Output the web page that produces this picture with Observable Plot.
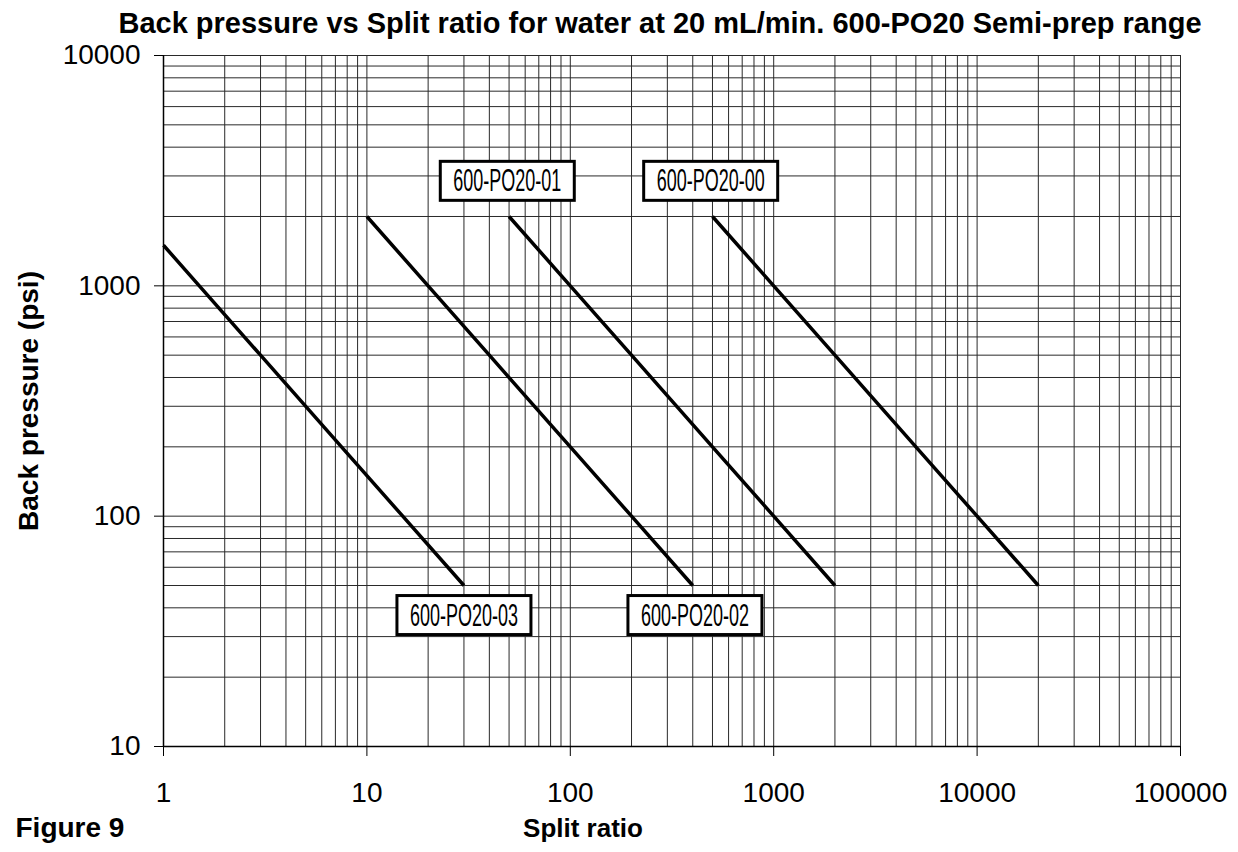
<!DOCTYPE html>
<html>
<head>
<meta charset="utf-8">
<script src="https://cdn.jsdelivr.net/npm/d3@7"></script>
<script src="https://cdn.jsdelivr.net/npm/@observablehq/plot@0.6"></script>
<style>
  html, body { margin: 0; padding: 0; background: #fff; }
  svg { display: block; }
</style>
</head>
<body>
<script>
// ---- data ----
const seriesNames = ["600-PO20-03", "600-PO20-02", "600-PO20-01", "600-PO20-00"];
const split03 = [1, 1.5, 3, 7.5, 15, 30];
const bp03    = [1500, 1000, 500, 200, 100, 50];
const split02 = [10, 20, 40, 100, 200, 400];
const bp02    = [2000, 1000, 500, 200, 100, 50];
const split01 = [50, 100, 200, 500, 1000, 2000];
const bp01    = [2000, 1000, 500, 200, 100, 50];
const split00 = [500, 1000, 2000, 5000, 10000, 20000];
const bp00    = [2000, 1000, 500, 200, 100, 50];

// label anchor positions (data coordinates)
const labelSplit = [30, 410, 49, 490];
const labelBp    = [37, 37, 2840, 2840];

// tick labels
const splitTicks = [1, 10, 100, 1000, 10000, 100000];
const pressureTicks = [10, 100, 1000, 10000];

// ---- build tables ----
const splits = [split03, split02, split01, split00];
const bps = [bp03, bp02, bp01, bp00];
const lineData = [];
seriesNames.forEach((name, i) => {
  splits[i].forEach((s, j) => lineData.push({series: name, split: s, bp: bps[i][j]}));
});
const labelData = seriesNames.map((name, i) => ({series: name, split: labelSplit[i], bp: labelBp[i]}));

const xGrid = [];
for (let e = 0; e < 5; e++) for (let m = 1; m <= 9; m++) xGrid.push(m * 10 ** e);
xGrid.push(100000);
const yGrid = [];
for (let e = 1; e < 4; e++) for (let m = 1; m <= 9; m++) yGrid.push(m * 10 ** e);
yGrid.push(10000);

const FONT = "'Liberation Sans', Arial, Helvetica, sans-serif";
const NARROW = "'Liberation Sans Narrow', 'Arial Narrow', 'Liberation Sans', sans-serif";
const gridColor = "#2a2a2a";

const chart = Plot.plot({
  width: 1238,
  height: 852,
  marginTop: 55,
  marginBottom: 106,
  marginLeft: 163,
  marginRight: 58,
  style: {fontFamily: FONT, background: "#fff", color: "#000", overflow: "visible"},
  x: {type: "log", domain: [1, 100000]},
  y: {type: "log", domain: [10, 10000]},
  marks: [
    Plot.ruleX(xGrid, {stroke: gridColor, strokeWidth: 1}),
    Plot.ruleY(yGrid, {stroke: gridColor, strokeWidth: 1}),
    Plot.axisX({ticks: splitTicks, tickFormat: d => String(d), tickSize: 10, tickPadding: 26,
                fontSize: 28, label: null, stroke: "#000"}),
    Plot.axisY({ticks: pressureTicks, tickFormat: d => String(d), tickSize: 9, tickPadding: 14,
                fontSize: 28, label: null, stroke: "#000"}),
    Plot.ruleX([1], {stroke: "#000", strokeWidth: 1.5}),
    Plot.ruleY([10], {stroke: "#000", strokeWidth: 1.5}),
    Plot.line(lineData, {x: "split", y: "bp", z: "series", stroke: "#000", strokeWidth: 3.5, strokeLinecap: "butt"}),
    Plot.text(labelData, {x: "split", y: "bp", text: "series", fontSize: 31,
                          fontFamily: NARROW, fill: "#000"}),
    Plot.text(["Back pressure vs Split ratio for water at 20 mL/min. 600-PO20 Semi-prep range"],
              {frameAnchor: "top", dx: -12, dy: -43, fontSize: 29, fontWeight: "bold", fill: "#000"}),
    Plot.text(["Back pressure (psi)"],
              {frameAnchor: "left", textAnchor: "middle", rotate: -90, dx: -134, fontSize: 28, fontWeight: "bold", fill: "#000"}),
    Plot.text(["Split ratio"],
              {frameAnchor: "bottom", dx: -89, dy: 90, fontSize: 26, fontWeight: "bold", fill: "#000"}),
    Plot.text(["Figure 9"],
              {frameAnchor: "bottom-left", textAnchor: "start", dx: -148, dy: 90, fontSize: 28, fontWeight: "bold", fill: "#000"})
  ]
});
document.body.append(chart);

// boxed labels: draw a white framed box behind each series label
Array.from(chart.querySelectorAll("text"))
  .filter(t => seriesNames.includes(t.textContent.trim()))
  .forEach(t => {
    t.setAttribute("textLength", "108");
    t.setAttribute("lengthAdjust", "spacingAndGlyphs");
    const b = t.getBBox();
    const cx = b.x + b.width / 2, cy = b.y + b.height / 2;
    const r = document.createElementNS("http://www.w3.org/2000/svg", "rect");
    r.setAttribute("x", cx - 67);
    r.setAttribute("y", cy - 19.5);
    r.setAttribute("width", 134);
    r.setAttribute("height", 39);
    r.setAttribute("fill", "#fff");
    r.setAttribute("stroke", "#000");
    r.setAttribute("stroke-width", 3);
    const tr = t.getAttribute("transform");
    if (tr) r.setAttribute("transform", tr);
    t.parentNode.insertBefore(r, t);
  });
</script>
</body>
</html>
